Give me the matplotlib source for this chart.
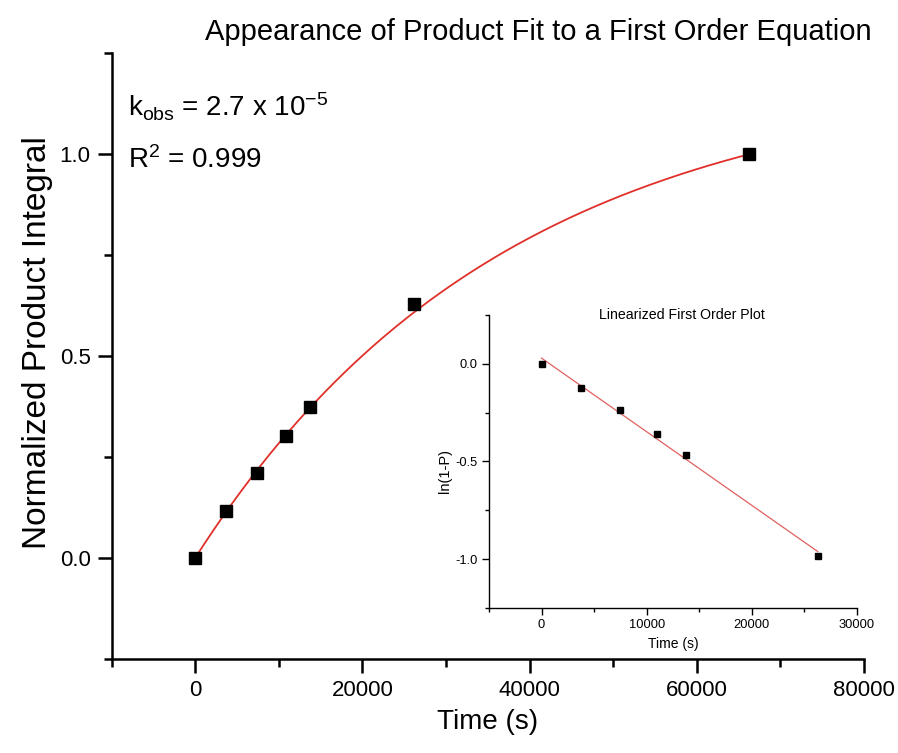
import numpy as np
import matplotlib.pyplot as plt
from matplotlib.ticker import MultipleLocator

plt.rcParams['font.family'] = ['Liberation Sans', 'DejaVu Sans']
plt.rcParams['mathtext.fontset'] = 'custom'
plt.rcParams['mathtext.rm'] = 'Liberation Sans'
plt.rcParams['mathtext.it'] = 'Liberation Sans'

# data
time = [0, 3700, 7400, 10900, 13700, 26200, 66300]
product = [0.0, 0.116, 0.21, 0.303, 0.373, 0.629, 1.0]

time_lin = [0, 3800, 7500, 10980, 13770, 26270]
ln_1mp = [0.0, -0.125, -0.235, -0.36, -0.466, -0.986]

# fit parameters
k_obs = 2.7e-5
amp = 1.2
lin_fit_x = [0, 26270]
lin_fit_y = [0.029, -0.961]

fig = plt.figure(figsize=(8.98, 7.53), dpi=100)
ax = fig.add_axes([0.1242, 0.1248, 0.9621 - 0.1242, 0.9296 - 0.1248])

t_fit = np.linspace(0, time[-1], 300)
ax.plot(t_fit, amp * (1 - np.exp(-k_obs * t_fit)), color='#e0302a', lw=1.3, zorder=2)
ax.plot(time, product, 's', color='black', markersize=9.3, zorder=3)

ax.set_xlim(-10000, 80000)
ax.set_ylim(-0.25, 1.25)
ax.xaxis.set_major_locator(MultipleLocator(20000))
ax.xaxis.set_minor_locator(MultipleLocator(10000))
ax.yaxis.set_major_locator(MultipleLocator(0.5))
ax.yaxis.set_minor_locator(MultipleLocator(0.25))
ax.yaxis.set_major_formatter(plt.FormatStrFormatter('%.1f'))
for s in ['top', 'right']:
    ax.spines[s].set_visible(False)
for s in ['left', 'bottom']:
    ax.spines[s].set_linewidth(1.8)
ax.tick_params(which='major', length=10, width=1.8, labelsize=16, direction='out', pad=5)
ax.tick_params(which='minor', length=6, width=1.8, direction='out')
ax.set_xlabel('Time (s)', fontsize=20, labelpad=6)
ax.set_ylabel('Normalized Product Integral', fontsize=24)
ax.yaxis.set_label_coords(-0.078, 0.523)

fig.text(0.599, 0.958, 'Appearance of Product Fit to a First Order Equation',
         fontsize=21, ha='center', va='center')
ax.text(0.022, 0.896, r'k$_{\mathrm{obs}}$ = 2.7 x 10$^{-5}$', transform=ax.transAxes,
        fontsize=20, ha='left', va='baseline')
ax.text(0.022, 0.810, r'R$^{2}$ = 0.999', transform=ax.transAxes,
        fontsize=20, ha='left', va='baseline')

# inset
ins = fig.add_axes([0.5445, 0.1926, 0.9543 - 0.5445, 0.5817 - 0.1926])
ins.plot(lin_fit_x, lin_fit_y, color='#e06060', lw=0.9, zorder=2)
ins.plot(time_lin, ln_1mp, 's', color='black', markersize=5, zorder=3)
ins.set_xlim(-5000, 30000)
ins.set_ylim(-1.25, 0.25)
ins.xaxis.set_major_locator(MultipleLocator(10000))
ins.xaxis.set_minor_locator(MultipleLocator(5000))
ins.yaxis.set_major_locator(MultipleLocator(0.5))
ins.yaxis.set_minor_locator(MultipleLocator(0.25))
ins.yaxis.set_major_formatter(plt.FormatStrFormatter('%.1f'))
for s in ['top', 'right']:
    ins.spines[s].set_visible(False)
for s in ['left', 'bottom']:
    ins.spines[s].set_linewidth(1.0)
ins.tick_params(which='major', length=5, width=1.0, labelsize=9.3, direction='out', pad=3)
ins.tick_params(which='minor', length=3, width=1.0, direction='out')
ins.set_xlabel('Time (s)', fontsize=10, labelpad=4)
ins.set_ylabel('ln(1-P)', fontsize=10.5)
ins.yaxis.set_label_coords(-0.10, 0.468)
ins.text(0.524, 1.0, 'Linearized First Order Plot', transform=ins.transAxes,
         fontsize=10.2, ha='center', va='center')

fig.savefig('out.png', dpi=100)
